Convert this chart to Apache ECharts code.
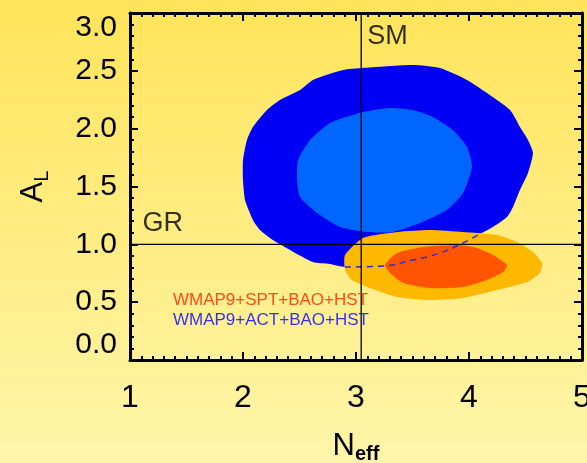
<!DOCTYPE html>
<html>
<head>
<meta charset="utf-8">
<script src="https://cdn.jsdelivr.net/npm/echarts@6/dist/echarts.min.js"></script>
<style>
  html, body { margin: 0; padding: 0; }
  #chart { width: 587px; height: 463px; }
</style>
</head>
<body>
<div id="chart"></div>
<script>
// Axis ranges and tick labels
const xTicks = [1, 2, 3, 4, 5];
const yTicks = [0.0, 0.5, 1.0, 1.5, 2.0, 2.5, 3.0];

// Reference values: Standard Model N_eff and GR lensing amplitude
const smNeff = 3.046;
const grAL = 1.0;

// WMAP9+ACT+BAO+HST, 95% region (N_eff, A_L)
const actOuter = [
  [3.053, 2.524], [3.504, 2.550], [3.743, 2.524], [3.982, 2.421], [4.159, 2.308],
  [4.363, 2.161], [4.451, 2.014], [4.522, 1.902], [4.566, 1.790], [4.522, 1.617],
  [4.451, 1.470], [4.389, 1.323], [4.336, 1.236], [4.212, 1.150], [4.080, 1.081],
  [3.947, 1.012], [3.743, 0.925], [3.504, 0.865], [3.239, 0.813], [2.903, 0.804],
  [2.770, 0.830], [2.619, 0.847], [2.416, 0.951], [2.265, 1.037], [2.150, 1.124],
  [2.088, 1.210], [2.018, 1.383], [2.000, 1.556], [2.000, 1.729], [2.035, 1.902],
  [2.088, 2.014], [2.212, 2.161], [2.327, 2.248], [2.504, 2.334], [2.619, 2.421],
  [2.885, 2.507]
];

// WMAP9+ACT+BAO+HST, 68% region
const actInner = [
  [3.062, 2.144], [3.301, 2.179], [3.504, 2.161], [3.681, 2.101], [3.858, 1.988],
  [3.982, 1.841], [4.027, 1.669], [3.947, 1.444], [3.805, 1.297], [3.566, 1.184],
  [3.327, 1.107], [3.097, 1.107], [2.858, 1.150], [2.655, 1.271], [2.504, 1.409],
  [2.478, 1.556], [2.487, 1.729], [2.593, 1.902], [2.770, 2.049]
];

// WMAP9+SPT+BAO+HST, 95% region
const sptOuter = [
  [3.062, 1.055], [3.363, 1.107], [3.655, 1.124], [3.947, 1.107], [4.248, 1.081],
  [4.425, 1.020], [4.566, 0.934], [4.646, 0.839], [4.628, 0.752], [4.513, 0.674],
  [4.248, 0.605], [3.947, 0.536], [3.655, 0.519], [3.363, 0.545], [3.124, 0.622],
  [2.965, 0.692], [2.903, 0.778], [2.903, 0.908]
];

// WMAP9+SPT+BAO+HST, 68% region
const sptInner = [
  [3.257, 0.821], [3.363, 0.925], [3.593, 0.977], [3.894, 0.994], [4.071, 0.968],
  [4.212, 0.908], [4.336, 0.821], [4.301, 0.761], [4.159, 0.692], [3.947, 0.631],
  [3.655, 0.622], [3.416, 0.666], [3.301, 0.752]
];

// Lower edge of the ACT 95% region where it runs under the SPT region
const actEdgeHidden = [
  [2.903, 0.804], [3.239, 0.813], [3.504, 0.865], [3.743, 0.925], [3.947, 1.012], [4.080, 1.081]
];

const legendLabels = ['WMAP9+SPT+BAO+HST', 'WMAP9+ACT+BAO+HST'];

const textFont = "'Liberation Sans', Arial, sans-serif";

function region(name, pts, color, z) {
  return {
    type: 'custom',
    name: name,
    coordinateSystem: 'cartesian2d',
    xAxisIndex: 0, yAxisIndex: 0,
    data: pts,
    z: z,
    silent: true,
    clip: true,
    renderItem: function (params, api) {
      if (params.dataIndex !== 0) return;
      return {
        type: 'polygon',
        shape: { points: pts.map(p => api.coord(p)), smooth: 0.2 },
        style: { fill: color }
      };
    }
  };
}

function note(pt, text, color, size, z) {
  return {
    type: 'scatter',
    xAxisIndex: 0, yAxisIndex: 0,
    data: [pt],
    symbolSize: 0,
    silent: true,
    z: z,
    label: {
      show: true, position: 'right', distance: 0,
      formatter: text, color: color, fontSize: size, fontFamily: textFont
    }
  };
}

const axisCommon = {
  axisLine: { show: true, onZero: false, lineStyle: { color: '#000', width: 3 } },
  axisTick: { show: true, inside: true, length: 8, lineStyle: { color: '#000', width: 2 } },
  minorTick: { show: true, length: 4, lineStyle: { color: '#000', width: 2 } },
  splitLine: { show: false },
  minorSplitLine: { show: false }
};

// Text-frame rich styles for a symbol with a lowered subscript
const mainSym = { fontSize: 31, fontFamily: textFont, color: '#000', verticalAlign: 'top', lineHeight: 34 };
const subSym = { fontSize: 20, fontFamily: textFont, color: '#000', verticalAlign: 'bottom', lineHeight: 20, padding: [20, 0, 0, 0] };

const chart = echarts.init(document.getElementById('chart'), null, { renderer: 'canvas' });

chart.setOption({
  animation: false,
  backgroundColor: {
    type: 'linear', x: 0, y: 0, x2: 0, y2: 1,
    colorStops: [
      { offset: 0, color: '#FFE45A' },
      { offset: 1, color: '#FFF5AA' }
    ]
  },
  grid: { left: 130, right: 5, top: 13, bottom: 103, containLabel: false, outerBoundsMode: 'none' },
  xAxis: [
    Object.assign({}, axisCommon, {
      type: 'value', position: 'bottom',
      min: xTicks[0], max: xTicks[xTicks.length - 1], interval: 1,
      minorTick: Object.assign({}, axisCommon.minorTick, { splitNumber: 10 }),
      axisLabel: { show: true, fontSize: 32, color: '#000', fontFamily: textFont, margin: 22 },
      name: '{n|N}{s|eff}',
      nameLocation: 'middle',
      nameGap: 64,
      nameTextStyle: {
        rich: {
          n: mainSym,
          s: Object.assign({}, subSym, { fontWeight: 'bold', padding: [26, 0, 0, 0] })
        }
      }
    }),
    Object.assign({}, axisCommon, {
      type: 'value', position: 'top',
      min: xTicks[0], max: xTicks[xTicks.length - 1], interval: 1,
      minorTick: Object.assign({}, axisCommon.minorTick, { splitNumber: 10 }),
      axisLabel: { show: false }
    })
  ],
  yAxis: [
    Object.assign({}, axisCommon, {
      type: 'value', position: 'left',
      min: yTicks[0], max: yTicks[yTicks.length - 1], interval: 0.5,
      minorTick: Object.assign({}, axisCommon.minorTick, { splitNumber: 5 }),
      axisLabel: {
        show: true, fontSize: 30, color: '#000', fontFamily: textFont, margin: 13,
        formatter: v => v.toFixed(1),
        verticalAlignMinLabel: 'bottom',
        verticalAlignMaxLabel: 'top'
      },
      name: '{a|A}{s|L}',
      nameLocation: 'middle',
      nameGap: 78,
      nameRotate: 90,
      nameTextStyle: {
        rich: {
          a: mainSym,
          s: subSym
        }
      }
    }),
    Object.assign({}, axisCommon, {
      type: 'value', position: 'right',
      min: yTicks[0], max: yTicks[yTicks.length - 1], interval: 0.5,
      minorTick: Object.assign({}, axisCommon.minorTick, { splitNumber: 5 }),
      axisLabel: { show: false }
    })
  ],
  series: [
    region('ACT 95%', actOuter, '#0000F5', 2),
    region('ACT 68%', actInner, '#0066FF', 3),
    region('SPT 95%', sptOuter, '#FFB800', 4),
    region('SPT 68%', sptInner, '#FF5500', 5),
    {
      type: 'line', xAxisIndex: 0, yAxisIndex: 0,
      data: actEdgeHidden, smooth: true, symbol: 'none', silent: true, z: 6,
      lineStyle: { color: '#2828E0', width: 1.5, type: [6, 5] }
    },
    {
      type: 'line', xAxisIndex: 0, yAxisIndex: 0,
      data: [[smNeff, yTicks[0]], [smNeff, yTicks[yTicks.length - 1]]],
      symbol: 'none', silent: true, z: 7,
      lineStyle: { color: '#000', width: 1.3 }
    },
    {
      type: 'line', xAxisIndex: 0, yAxisIndex: 0,
      data: [[xTicks[0], grAL], [xTicks[xTicks.length - 1], grAL]],
      symbol: 'none', silent: true, z: 7,
      lineStyle: { color: '#000', width: 1.3 }
    },
    note([3.1, 2.80], 'SM', '#000', 27, 8),
    note([1.11, 1.18], 'GR', '#000', 27, 8),
    note([1.38, 0.52], legendLabels[0], '#FF2200', 17, 8),
    note([1.38, 0.34], legendLabels[1], '#0000FF', 17, 8)
  ]
});
</script>
</body>
</html>
